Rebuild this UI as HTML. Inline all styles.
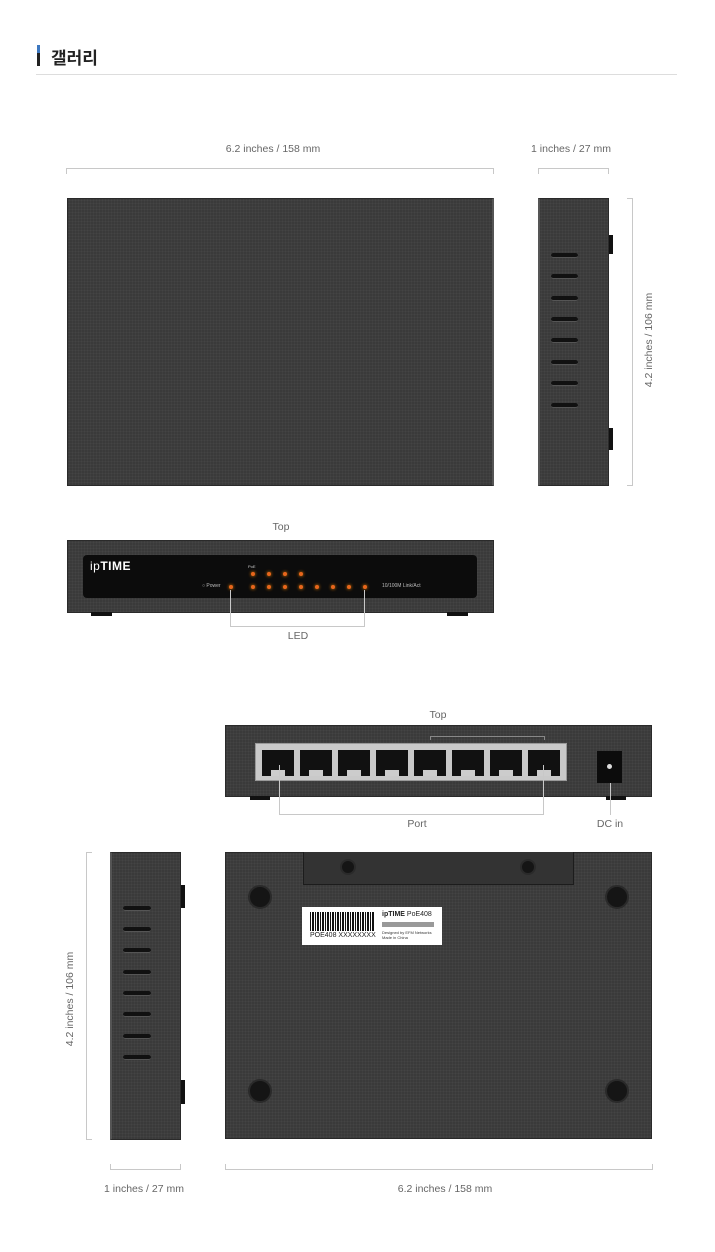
<!DOCTYPE html>
<html><head><meta charset="utf-8"><style>
*{margin:0;padding:0;box-sizing:border-box}
body{width:715px;height:1252px;background:#fff;position:relative;overflow:hidden;font-family:"Liberation Sans","Noto Sans CJK KR",sans-serif;color:#555}
.a{position:absolute}
.t{position:absolute;font-size:10.5px;color:#666;white-space:nowrap;transform:translateX(-50%)}
.dev{position:absolute;background:#3a3a3a;background-image:radial-gradient(#444 1px,transparent 1px);background-size:3px 3px;border:1px solid #2a2a2a}
.ln{position:absolute;border-color:#c8c8c8;border-style:solid;border-width:0}
.slot{position:absolute;height:5px;border-radius:3px;background:#111;border-bottom:1px solid #555}
.tab{position:absolute;background:#111;width:4px}
.led{position:absolute;width:4px;height:4px;border-radius:50%;background:#e8661c;box-shadow:0 0 3px #f80}
.port{position:absolute;top:6px;width:32px;height:26px;background:#111}
.port:after{content:"";position:absolute;left:9px;bottom:0;width:14px;height:6px;background:#ccc}
.foot{position:absolute;background:#111;height:4px}
.hole{position:absolute;border-radius:50%;background:#151515;border:2px solid #2a2a2a}
</style></head><body>
<div class="a" style="left:37px;top:45px;width:3px;height:21px;background:#222"></div>
<div class="a" style="left:37px;top:45px;width:3px;height:8px;background:#3d78c0"></div>
<div class="a" style="left:51px;top:44px;font-size:17px;font-weight:bold;color:#222">갤러리</div>
<div class="a" style="left:36px;top:74px;width:641px;height:1px;background:#ddd"></div>

<div class="t" style="left:273px;top:143px">6.2 inches / 158 mm</div>
<div class="ln" style="left:66px;top:168px;width:428px;height:6px;border-width:1px 1px 0 1px"></div>
<div class="t" style="left:571px;top:143px">1 inches / 27 mm</div>
<div class="ln" style="left:538px;top:168px;width:71px;height:6px;border-width:1px 1px 0 1px"></div>

<div class="dev" style="left:67px;top:198px;width:427px;height:288px;border-right:2px solid #555"></div>

<div class="dev" style="left:538px;top:198px;width:71px;height:288px;border-left:2px solid #555"></div>
<div class="tab" style="left:609px;top:235px;height:19px"></div>
<div class="tab" style="left:609px;top:428px;height:22px"></div>
<div class="slot" style="left:551px;top:253px;width:27px"></div>
<div class="slot" style="left:551px;top:274px;width:27px"></div>
<div class="slot" style="left:551px;top:296px;width:27px"></div>
<div class="slot" style="left:551px;top:317px;width:27px"></div>
<div class="slot" style="left:551px;top:338px;width:27px"></div>
<div class="slot" style="left:551px;top:360px;width:27px"></div>
<div class="slot" style="left:551px;top:381px;width:27px"></div>
<div class="slot" style="left:551px;top:403px;width:27px"></div>
<div class="ln" style="left:627px;top:198px;width:6px;height:288px;border-width:1px 1px 1px 0"></div>
<div class="a" style="left:649px;top:340px;font-size:10.5px;color:#666;white-space:nowrap;transform:translate(-50%,-50%) rotate(-90deg)">4.2 inches / 106 mm</div>

<div class="t" style="left:281px;top:521px">Top</div>
<div class="dev" style="left:67px;top:540px;width:427px;height:73px"></div>
<div class="a" style="left:83px;top:555px;width:394px;height:43px;background:#0c0c0c;border-radius:4px"></div>
<div class="foot" style="left:91px;top:612px;width:21px"></div>
<div class="foot" style="left:447px;top:612px;width:21px"></div>
<div class="a" style="left:90px;top:559px;color:#fff;font-size:12px;font-weight:bold;letter-spacing:0.5px"><span style="font-weight:normal">ip</span>TIME</div>
<div class="a" style="left:248px;top:564px;color:#ccc;font-size:4px">PoE</div>
<div class="a" style="left:202px;top:583px;color:#bbb;font-size:5px">○ Power</div>
<div class="a" style="left:382px;top:583px;color:#bbb;font-size:5px">10/100M Link/Act</div>
<div class="led" style="left:229px;top:585px"></div>
<div class="led" style="left:251px;top:572px"></div><div class="led" style="left:267px;top:572px"></div><div class="led" style="left:283px;top:572px"></div><div class="led" style="left:299px;top:572px"></div>
<div class="led" style="left:251px;top:585px"></div><div class="led" style="left:267px;top:585px"></div><div class="led" style="left:283px;top:585px"></div><div class="led" style="left:299px;top:585px"></div><div class="led" style="left:315px;top:585px"></div><div class="led" style="left:331px;top:585px"></div><div class="led" style="left:347px;top:585px"></div><div class="led" style="left:363px;top:585px"></div>
<div class="ln" style="left:230px;top:590px;width:135px;height:37px;border-width:0 1px 1px 1px"></div>
<div class="t" style="left:298px;top:630px">LED</div>

<div class="t" style="left:438px;top:709px">Top</div>
<div class="dev" style="left:225px;top:725px;width:427px;height:72px"></div>
<div class="foot" style="left:250px;top:796px;width:20px"></div>
<div class="foot" style="left:606px;top:796px;width:20px"></div>
<div class="a" style="left:255px;top:743px;width:312px;height:38px;background:#c9c9c9;border:1px solid #999">
<div class="port" style="left:6px"></div><div class="port" style="left:44px"></div><div class="port" style="left:82px"></div><div class="port" style="left:120px"></div><div class="port" style="left:158px"></div><div class="port" style="left:196px"></div><div class="port" style="left:234px"></div><div class="port" style="left:272px"></div></div>
<div class="ln" style="left:430px;top:736px;width:115px;height:4px;border-color:#888;border-width:1px 1px 0 1px"></div>
<div class="a" style="left:597px;top:751px;width:25px;height:32px;background:#0c0c0c"></div>
<div class="a" style="left:607px;top:764px;width:5px;height:5px;border-radius:50%;background:#ddd"></div>
<div class="ln" style="left:279px;top:765px;width:265px;height:50px;border-width:0 1px 1px 1px"></div>
<div class="t" style="left:417px;top:818px">Port</div>
<div class="ln" style="left:610px;top:783px;width:1px;height:32px;border-width:0 0 0 1px"></div>
<div class="t" style="left:610px;top:818px">DC in</div>

<div class="dev" style="left:110px;top:852px;width:71px;height:288px;border-left:2px solid #555"></div>
<div class="tab" style="left:181px;top:885px;height:23px"></div>
<div class="tab" style="left:181px;top:1080px;height:24px"></div>
<div class="slot" style="left:123px;top:906px;width:28px"></div>
<div class="slot" style="left:123px;top:927px;width:28px"></div>
<div class="slot" style="left:123px;top:948px;width:28px"></div>
<div class="slot" style="left:123px;top:970px;width:28px"></div>
<div class="slot" style="left:123px;top:991px;width:28px"></div>
<div class="slot" style="left:123px;top:1012px;width:28px"></div>
<div class="slot" style="left:123px;top:1034px;width:28px"></div>
<div class="slot" style="left:123px;top:1055px;width:28px"></div>
<div class="ln" style="left:86px;top:852px;width:6px;height:288px;border-width:1px 0 1px 1px"></div>
<div class="a" style="left:70px;top:999px;font-size:10.5px;color:#666;white-space:nowrap;transform:translate(-50%,-50%) rotate(-90deg)">4.2 inches / 106 mm</div>

<div class="dev" style="left:225px;top:852px;width:427px;height:287px"></div>
<div class="a" style="left:303px;top:852px;width:271px;height:33px;background:#333;border:1px solid #1c1c1c;border-top:none"></div>
<div class="hole" style="left:340px;top:859px;width:16px;height:16px"></div>
<div class="hole" style="left:520px;top:859px;width:16px;height:16px"></div>
<div class="hole" style="left:248px;top:885px;width:24px;height:24px"></div>
<div class="hole" style="left:605px;top:885px;width:24px;height:24px"></div>
<div class="hole" style="left:248px;top:1079px;width:24px;height:24px"></div>
<div class="hole" style="left:605px;top:1079px;width:24px;height:24px"></div>
<div class="a" style="left:302px;top:907px;width:140px;height:38px;background:#fff">
<div class="a" style="left:8px;top:5px;width:64px;height:19px;background:repeating-linear-gradient(90deg,#111 0 1px,#fff 1px 2px,#111 2px 4px,#fff 4px 5px)"></div>
<div class="a" style="left:8px;top:25px;font-size:7px;color:#222">POE408 XXXXXXXX</div>
<div class="a" style="left:80px;top:4px;font-size:7px;color:#222"><b>ipTIME</b> PoE408</div>
<div class="a" style="left:80px;top:15px;width:52px;height:5px;background:#999"></div>
<div class="a" style="left:80px;top:23px;font-size:4px;color:#333;line-height:5px">Designed by EFM Networks<br>Made in China</div>
</div>

<div class="ln" style="left:110px;top:1164px;width:71px;height:6px;border-width:0 1px 1px 1px"></div>
<div class="t" style="left:144px;top:1183px">1 inches / 27 mm</div>
<div class="ln" style="left:225px;top:1164px;width:428px;height:6px;border-width:0 1px 1px 1px"></div>
<div class="t" style="left:445px;top:1183px">6.2 inches / 158 mm</div>
</body></html>
